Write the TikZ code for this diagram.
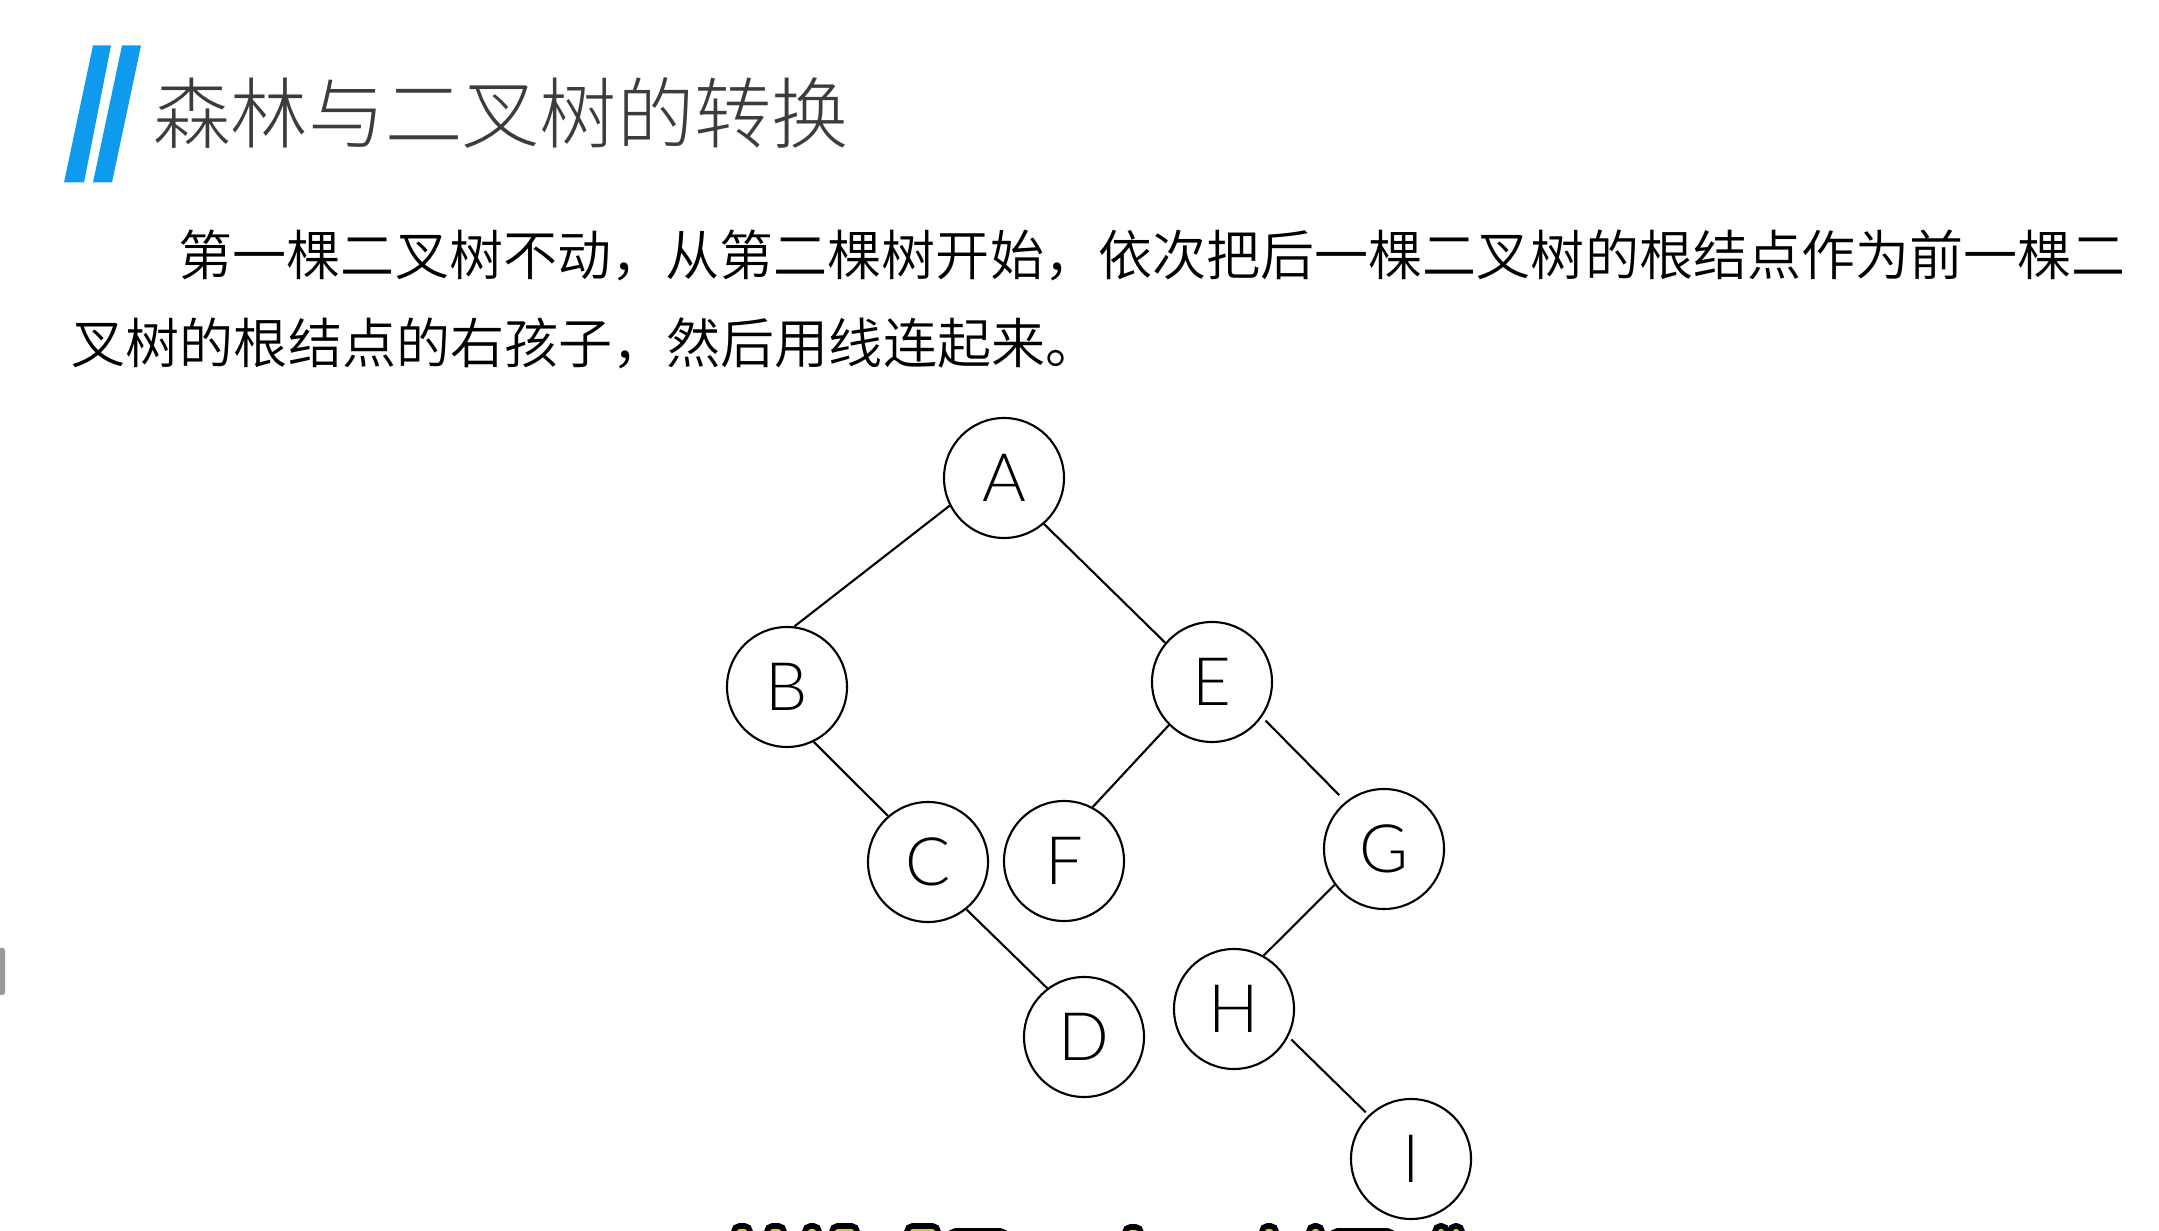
\documentclass[tikz,border=0pt]{standalone}
\usepackage{fontspec}
\setmainfont{Lato Light}
\newfontfamily\cjk{Noto Sans CJK SC DemiLight}
\newfontfamily\cjkt{Noto Sans CJK SC Light}
\usetikzlibrary{arrows.meta,calc}
\definecolor{lan}{HTML}{0E9BEE}
\definecolor{titel}{HTML}{3C3C3C}
\definecolor{rand}{HTML}{9A9A9A}
\definecolor{gelb}{HTML}{D8C84A}
\tikzset{
  knoten/.style={circle,draw=black,fill=white,line width=0.6pt,minimum size=1.2cm,inner sep=0pt,font=\fontsize{19}{19}\selectfont},
  kante/.style={black,line width=0.6pt},
  streifen/.style={fill=lan,draw=none},
  zipfel/.style={fill=gelb,draw=black,line width=1.6pt,rounded corners=1.5pt},
  titeltext/.style={anchor=west,inner sep=0pt,text=titel,font=\cjkt\fontsize{21.98}{22}\selectfont},
  zeile/.style={anchor=west,inner sep=0pt,text=black,font=\cjk\fontsize{15.39}{16}\selectfont},
}
\begin{document}
\begin{tikzpicture}
  \useasboundingbox (0,0) rectangle (21.59,-12.31);
  % title mark
  \fill[streifen] (0.93,-0.455)--(1.11,-0.455)--(0.84,-1.825)--(0.64,-1.825)--cycle;
  \fill[streifen] (1.22,-0.455)--(1.41,-0.455)--(1.12,-1.825)--(0.93,-1.825)--cycle;
  \fill[rand,rounded corners=0.5pt] (-0.05,-9.48) rectangle (0.05,-9.95);
  \node[titeltext] (titel) at (1.53,-1.13) {森林与二叉树的转换};
  \node[zeile] (zeile1) at (1.78,-2.55) {第一棵二叉树不动，从第二棵树开始，依次把后一棵二叉树的根结点作为前一棵二};
  \node[zeile] (zeile2) at (0.71,-3.435) {叉树的根结点的右孩子，然后用线连起来。};
  % tree
  \node[knoten] (A) at (10.04,-4.78) {A};
  \node[knoten] (B) at (7.87,-6.87) {B};
  \node[knoten] (E) at (12.12,-6.82) {E};
  \node[knoten] (C) at (9.28,-8.62) {C};
  \node[knoten] (F) at (10.64,-8.61) {F};
  \node[knoten] (G) at (13.84,-8.49) {G};
  \node[knoten] (D) at (10.84,-10.37) {D};
  \node[knoten] (H) at (12.34,-10.09) {H};
  \node[knoten] (I) at (14.11,-11.59) {I};
  \draw[kante] (A.207)--(B.83);
  \draw[kante] (A.-49)--(E.140);
  \draw[kante] (B.-64)--(C.131);
  \draw[kante] (E.225)--(F.62);
  \draw[kante,shorten <=0.05cm,shorten >=0.09cm] (E.-35)--(G.129);
  \draw[kante] (C.-51)--(D.127);
  \draw[kante] (G.216)--(H.61);
  \draw[kante,shorten <=0.04cm,shorten >=0.04cm] (H.-27)--(I.134);
  % subtitle tips at the lower edge
  \foreach \x/\w/\y in {7.34/0.16/12.26,7.67/0.17/12.26,8.05/0.14/12.26,8.32/0.25/12.26,9.07/0.31/12.26,9.50/0.56/12.31,
    11.25/0.16/12.27,12.62/0.14/12.26,13.09/0.13/12.26,13.32/0.61/12.31,14.35/0.12/12.26,14.50/0.12/12.26}
    \draw[zipfel] (\x,-\y) rectangle ++(\w,-0.3);
\end{tikzpicture}
\end{document}
